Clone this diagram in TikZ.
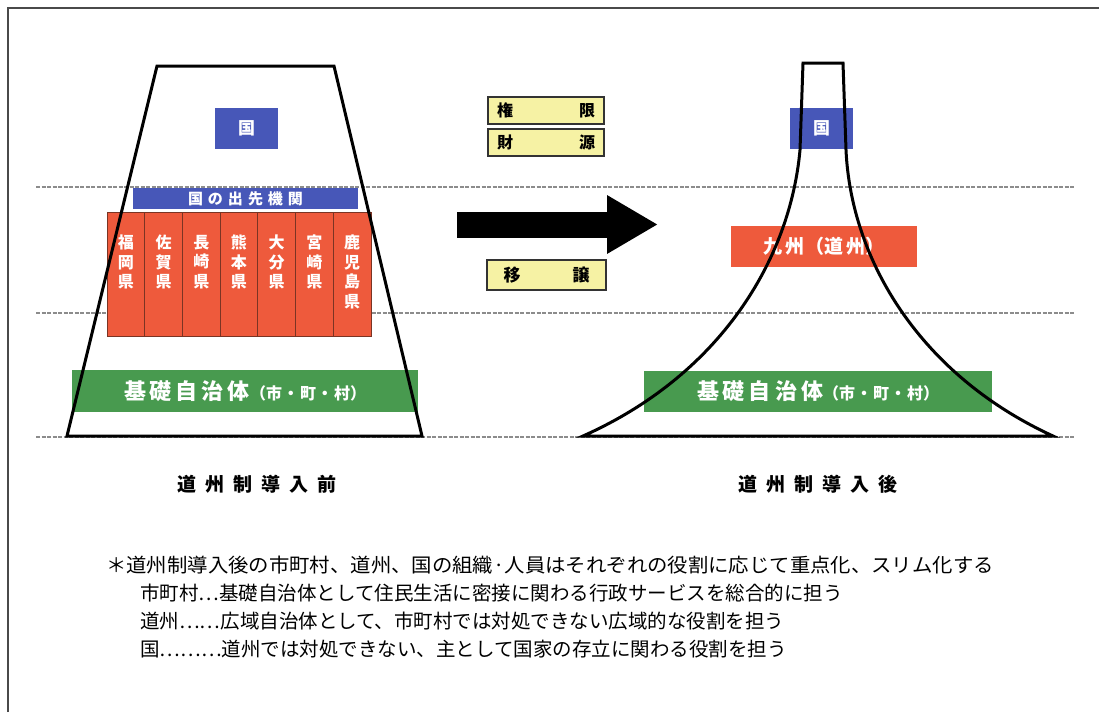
\documentclass[tikz,border=0pt]{standalone}
\usepackage{fontspec}
\newfontfamily\jp{Noto Sans CJK JP}
\usetikzlibrary{arrows.meta}
\definecolor{kblue}{HTML}{4757B8}
\definecolor{kred}{HTML}{EE5A3C}
\definecolor{kdiv}{HTML}{7A3424}
\definecolor{kgreen}{HTML}{489A4F}
\definecolor{kyellow}{HTML}{F6F2A4}
\definecolor{kframe}{HTML}{4A4A4A}
\definecolor{kgrid}{HTML}{8C8C8C}
\newcommand\fsz[2]{\fontsize{#1}{#2}\selectfont}
\tikzset{
  boxbase/.style={rectangle, inner sep=0pt, outer sep=0pt},
  bluebox/.style={boxbase, fill=kblue, text=white, font=\jp\bfseries\fsz{17}{17}},
  redbox/.style={boxbase, fill=kred, text=white, font=\jp\bfseries\fsz{19}{19}},
  redcol/.style={boxbase, fill=kred, draw=kdiv, line width=0.8pt},
  prefname/.style={inner sep=0pt, align=center, text=white, anchor=north, font=\jp\bfseries\fsz{16}{19.5}},
  greenbox/.style={boxbase, fill=kgreen, text=white, font=\jp\bfseries},
  yellowbox/.style={boxbase, fill=kyellow, draw=black!80, line width=2.2pt, text=black, font=\jp\bfseries\fsz{16}{16}},
  outline/.style={draw=black, line width=3pt, line join=miter},
  gridline/.style={draw=kgrid, line width=1.3pt, dash pattern=on 4pt off 1.5pt},
  caption/.style={inner sep=0pt, text=black, font=\jp\bfseries\fsz{19}{19}},
  note/.style={inner sep=0pt, anchor=west, text=black, font=\jp\fsz{19.5}{19.5}},
  bigarrow/.style={line width=26pt, -{Triangle[length=51pt,width=55pt]}}
}
\begin{document}
\begin{tikzpicture}[x=1pt,y=-1pt]
\useasboundingbox (0,0) rectangle (1099,712);
% frame
\draw[kframe, line width=2pt] (8,712) -- (8,8) -- (1099,8);
% level lines
\draw[gridline] (36,187) -- (1075,187);
\draw[gridline] (36,313) -- (1075,313);
\draw[gridline] (36,437) -- (1075,437);

% ---------- left: before ----------
\node[bluebox, minimum width=63pt, minimum height=41pt] (kuniL) at (246.5,128.5) {国};
\node[bluebox, minimum width=225pt, minimum height=21pt, font=\jp\bfseries\fsz{15}{15}] (dept) at (245.5,198.5) {国\kern5pt の\kern5pt 出\kern5pt 先\kern5pt 機\kern5pt 関};
\foreach \i/\n/\t in {0/c1/福\\岡\\県, 1/c2/佐\\賀\\県, 2/c3/長\\崎\\県, 3/c4/熊\\本\\県, 4/c5/大\\分\\県, 5/c6/宮\\崎\\県, 6/c7/鹿\\児\\島\\県}{
  \node[redcol, minimum width=37.71pt, minimum height=124pt] (\n) at ({107+37.71*(\i+0.5)},274) {};
  \node[prefname] (\n t) at ({107+37.71*(\i+0.5)},235) {\t};
}
\node[greenbox, minimum width=346pt, minimum height=42pt] (kisoL) at (245,391)
  {\fsz{22}{22}基\kern4pt 礎\kern4pt 自\kern4pt 治\kern4pt 体\fsz{16}{16}（市\kern1pt・\kern1pt 町\kern1pt・\kern1pt 村）};

\draw[outline] (157,66) -- (334,66) -- (422,436) -- (67,436) -- cycle;
\node[caption] (capL) at (257,484) {道\kern9pt 州\kern9pt 制\kern9pt 導\kern9pt 入\kern9pt 前};

% ---------- middle ----------
\node[yellowbox, minimum width=116pt, minimum height=27pt] (kengen) at (546,110.5) {権\hspace{66pt}限};
\node[yellowbox, minimum width=116pt, minimum height=27pt] (zaigen) at (546,142.5) {財\hspace{66pt}源};
\coordinate (arrS) at (457,224.5);
\coordinate (arrE) at (658,224.5);
\draw[bigarrow] (arrS) -- (arrE);
\node[yellowbox, minimum width=119pt, minimum height=30pt, font=\jp\bfseries\fsz{17}{17}] (ijo) at (546.5,275) {移\hspace{52pt}譲};

% ---------- right: after ----------
\node[bluebox, minimum width=63pt, minimum height=41pt] (kuniR) at (821.5,128.5) {国};
\node[redbox, minimum width=186pt, minimum height=41pt] (doshu) at (824,246.5) {九\kern3pt 州\kern1pt（道\kern3pt 州）};
\node[greenbox, minimum width=348pt, minimum height=41pt] (kisoR) at (818,391.5)
  {\fsz{22}{22}基\kern4pt 礎\kern4pt 自\kern4pt 治\kern4pt 体\fsz{16}{16}（市\kern1pt・\kern1pt 町\kern1pt・\kern1pt 村）};

\draw[outline] (583,436) -- (1053,436)
  .. controls (920,375) and (851,260) .. (846,150)
  -- (843,63) -- (803,63) -- (800,150)
  .. controls (790,260) and (720,375) .. (583,436) -- cycle;
\node[caption] (capR) at (818,484) {道\kern9pt 州\kern9pt 制\kern9pt 導\kern9pt 入\kern9pt 後};

% ---------- notes ----------
\node[note] (n1) at (106,565) {\scalebox{1.045}[1]{＊道州制導入後の市町村、道州、国の組織·人員はそれぞれの役割に応じて重点化、スリム化する}};
\node[note] (n2) at (140,593) {市町村…基礎自治体として住民生活に密接に関わる行政サービスを総合的に担う};
\node[note] (n3) at (140,621) {道州……広域自治体として、市町村では対処できない広域的な役割を担う};
\node[note] (n4) at (140,649) {国………道州では対処できない、主として国家の存立に関わる役割を担う};
\end{tikzpicture}
\end{document}
